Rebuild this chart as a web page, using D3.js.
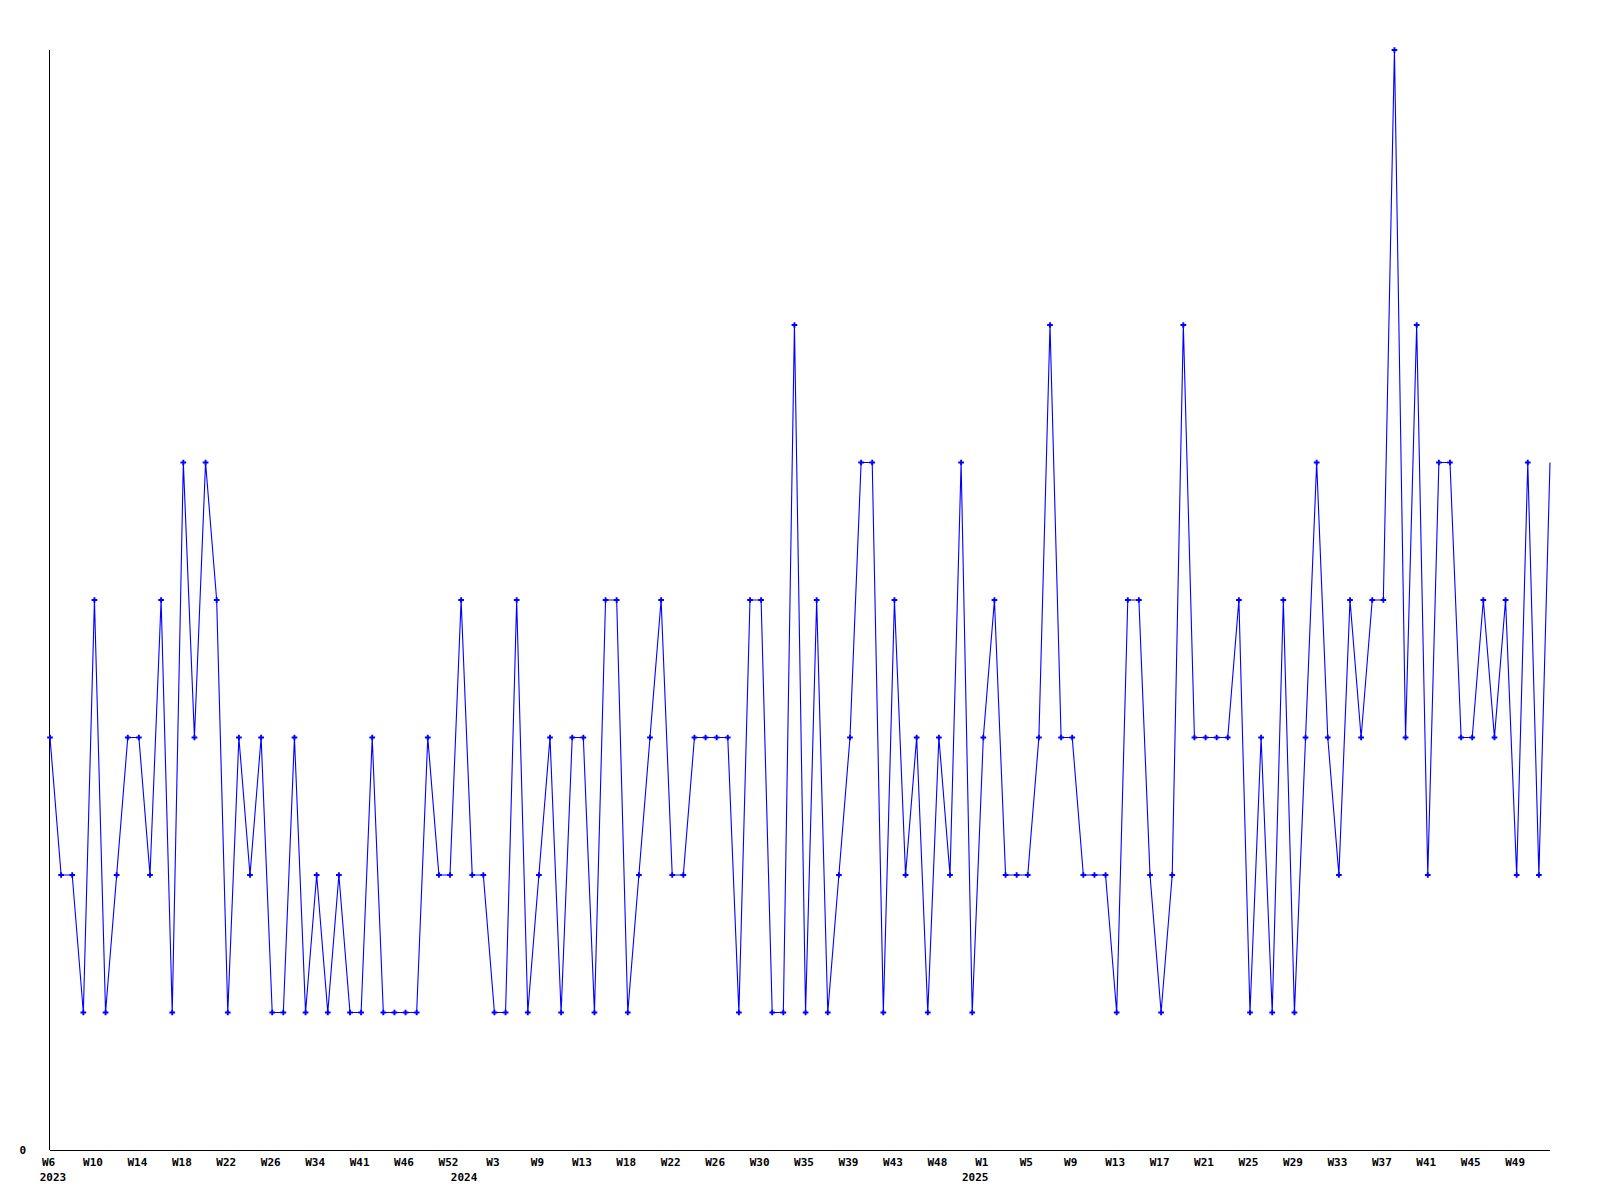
<!DOCTYPE html>
<html>
<head>
<meta charset="utf-8">
<script src="https://cdn.jsdelivr.net/npm/d3@7"></script>
<style>
  html, body { margin: 0; padding: 0; background: #ffffff; }
  svg { display: block; }
  text { font-family: "DejaVu Sans Mono", "Liberation Mono", monospace; font-weight: bold; font-size: 11px; fill: #000; }
</style>
</head>
<body>
<svg id="chart" width="1600" height="1200"></svg>
<script>
// Weekly counts, one per plotted week (136 points)
const values = [
  3,2,2,1,4,1,2,3,3,2,
  4,1,5,3,5,4,1,3,2,3,
  1,1,3,1,2,1,2,1,1,3,
  1,1,1,1,3,2,2,4,2,2,
  1,1,4,1,2,3,1,3,3,1,
  4,4,1,2,3,4,2,2,3,3,
  3,3,1,4,4,1,1,6,1,4,
  1,2,3,5,5,1,4,2,3,1,
  3,2,5,1,3,4,2,2,2,3,
  6,3,3,2,2,2,1,4,4,2,
  1,2,6,3,3,3,3,4,1,3,
  1,4,1,3,5,3,2,4,3,4,
  4,8,3,6,2,5,5,3,3,4,
  3,4,2,5,2,5
];
// Tick labels shown every 4th point
const tickLabels = [
  "W6","W10","W14","W18","W22","W26","W34","W41","W46","W52",
  "W3","W9","W13","W18","W22","W26","W30","W35","W39","W43",
  "W48","W1","W5","W9","W13","W17","W21","W25","W29","W33",
  "W37","W41","W45","W49"
];
const tickStep = 4;
// Year labels and the point index where each year starts
const yearLabels = ["2023","2024","2025"];
const yearStarts = [0, 37, 83];
const yMax = 8;

const svg = d3.select("#chart");
const mLeft = 50, mRight = 1550, mTop = 50, mBottom = 1150;

const x = d3.scaleLinear().domain([0, values.length - 1]).range([mLeft, mRight]);
const y = d3.scaleLinear().domain([0, yMax]).range([mBottom, mTop]);

// axes
const xAxis = d3.axisBottom(x)
  .tickValues(tickLabels.map((d, i) => i * tickStep))
  .tickFormat((d) => tickLabels[d / tickStep])
  .tickSize(0).tickPadding(0);
const gx = svg.append("g").attr("transform", `translate(0,${mBottom})`).call(xAxis);
gx.attr("font-size", null).attr("font-family", null);
gx.select(".domain").attr("stroke", "#000").attr("stroke-width", 1).attr("shape-rendering", "crispEdges")
  .attr("d", `M${mLeft},0.5H${mRight}`);
gx.selectAll(".tick text")
  .attr("y", 16).attr("dy", null).attr("x", -2).attr("fill", "#000");

const yAxis = d3.axisLeft(y).tickValues([0]).tickFormat(d3.format("d")).tickSize(0).tickPadding(0);
const gy = svg.append("g").attr("transform", `translate(${mLeft},0)`).call(yAxis);
gy.attr("font-size", null).attr("font-family", null);
gy.select(".domain").attr("stroke", "#000").attr("stroke-width", 1).attr("shape-rendering", "crispEdges")
  .attr("d", `M-0.5,${mTop}V${mBottom}`);
gy.selectAll(".tick text").attr("x", -24).attr("dy", "0.3em").attr("fill", "#000");

// year labels
svg.append("g").selectAll("text").data(yearLabels).join("text")
  .attr("x", (d, i) => x(yearStarts[i]) + 3)
  .attr("y", 1181)
  .attr("text-anchor", "middle")
  .text((d) => d);

// line
const line = d3.line().x((d, i) => x(i)).y((d) => y(d));
svg.append("path").datum(values)
  .attr("d", line)
  .attr("fill", "none")
  .attr("stroke", "#0000ff")
  .attr("stroke-width", 1.1);

// markers
const sym = d3.symbol().type(d3.symbolCross).size(18);
svg.append("g").selectAll("path").data(values.slice(0, values.length - 1)).join("path")
  .attr("transform", (d, i) => `translate(${x(i)},${y(d)})`)
  .attr("d", sym)
  .attr("fill", "#0000ff");
</script>
</body>
</html>
